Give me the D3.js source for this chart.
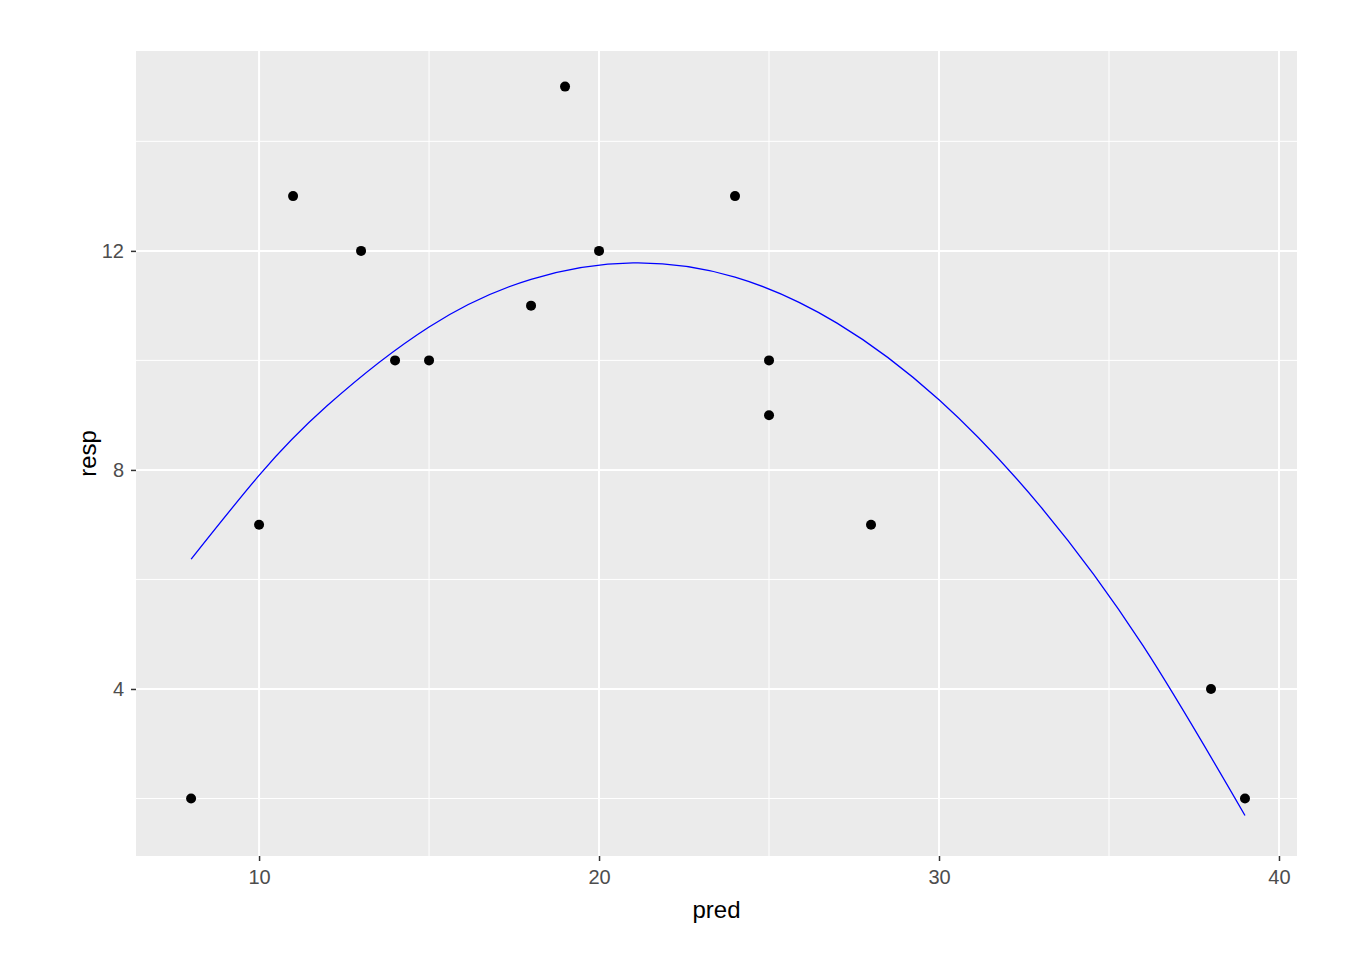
<!DOCTYPE html>
<html>
<head>
<meta charset="utf-8">
<script src="https://cdn.jsdelivr.net/npm/d3@7"></script>
<style>
  body { margin: 0; background: #fff; }
  svg { display: block; font-family: 'Liberation Sans', Arial, sans-serif; }
</style>
</head>
<body>
<div id="chart"></div>
<script>
// observations
const pred = [8, 10, 11, 13, 14, 15, 18, 19, 20, 24, 25, 25, 28, 38, 39];
const resp = [2, 7, 13, 12, 10, 10, 11, 15, 12, 13, 10, 9, 7, 4, 2];

// fitted curve
const fitX = [8, 10, 12, 15, 18, 21, 24, 27, 30, 33, 36, 39];
const fitY = [6.37, 7.9, 9.17, 10.61, 11.48, 11.78, 11.52, 10.68, 9.28, 7.32, 4.79, 1.69];

const xTicks = [10, 20, 30, 40];
const xMinor = [15, 25, 35];
const yTicks = [4, 8, 12];
const yMinor = [2, 6, 10, 14];

const width = 1358;
const height = 975;
const panel = { left: 136, right: 1297, top: 51, bottom: 856 };

const svg = d3.select('#chart').append('svg')
  .attr('width', width)
  .attr('height', height);

const x = d3.scaleLinear().domain([6.38, 40.53]).range([panel.left, panel.right]);
const y = d3.scaleLinear().domain([0.95, 15.65]).range([panel.bottom, panel.top]);

// panel background
svg.append('rect')
  .attr('x', panel.left)
  .attr('y', panel.top)
  .attr('width', panel.right - panel.left)
  .attr('height', panel.bottom - panel.top)
  .attr('fill', '#EBEBEB');

const grid = svg.append('g');
grid.selectAll('.xminor').data(xMinor).enter().append('line')
  .attr('x1', d => x(d)).attr('x2', d => x(d))
  .attr('y1', panel.top).attr('y2', panel.bottom)
  .attr('stroke', '#fff').attr('stroke-width', 1);
grid.selectAll('.yminor').data(yMinor).enter().append('line')
  .attr('y1', d => y(d)).attr('y2', d => y(d))
  .attr('x1', panel.left).attr('x2', panel.right)
  .attr('stroke', '#fff').attr('stroke-width', 1);
grid.selectAll('.xmajor').data(xTicks).enter().append('line')
  .attr('x1', d => x(d)).attr('x2', d => x(d))
  .attr('y1', panel.top).attr('y2', panel.bottom)
  .attr('stroke', '#fff').attr('stroke-width', 2);
grid.selectAll('.ymajor').data(yTicks).enter().append('line')
  .attr('y1', d => y(d)).attr('y2', d => y(d))
  .attr('x1', panel.left).attr('x2', panel.right)
  .attr('stroke', '#fff').attr('stroke-width', 2);

// axes
const xAxis = svg.append('g')
  .attr('transform', `translate(0,${panel.bottom})`)
  .call(d3.axisBottom(x).tickValues(xTicks).tickSize(5).tickPadding(9));
const yAxis = svg.append('g')
  .attr('transform', `translate(${panel.left},0)`)
  .call(d3.axisLeft(y).tickValues(yTicks).tickSize(5).tickPadding(7));

[xAxis, yAxis].forEach((ax) => {
  ax.select('.domain').remove();
  ax.selectAll('.tick line').attr('stroke', '#333').attr('stroke-width', 1.5);
  ax.selectAll('.tick text')
    .attr('fill', '#4D4D4D')
    .style('font-size', '20px')
    .style('font-family', "'Liberation Sans', Arial, sans-serif");
});

// points
svg.append('g').selectAll('circle')
  .data(pred.map((p, i) => ({ p, r: resp[i] })))
  .enter().append('circle')
  .attr('cx', d => x(d.p))
  .attr('cy', d => y(d.r))
  .attr('r', 5)
  .attr('fill', '#000');

// fitted curve
const line = d3.line()
  .x(d => x(d[0]))
  .y(d => y(d[1]))
  .curve(d3.curveNatural);
svg.append('path')
  .datum(fitX.map((v, i) => [v, fitY[i]]))
  .attr('d', line)
  .attr('fill', 'none')
  .attr('stroke', '#0000FF')
  .attr('stroke-width', 1.3);

// axis titles
svg.append('text')
  .attr('x', (panel.left + panel.right) / 2)
  .attr('y', 918)
  .attr('text-anchor', 'middle')
  .style('font-size', '24px')
  .attr('fill', '#000')
  .text('pred');

svg.append('text')
  .attr('transform', `translate(96,${(panel.top + panel.bottom) / 2}) rotate(-90)`)
  .attr('text-anchor', 'middle')
  .style('font-size', '24px')
  .attr('fill', '#000')
  .text('resp');
</script>
</body>
</html>
